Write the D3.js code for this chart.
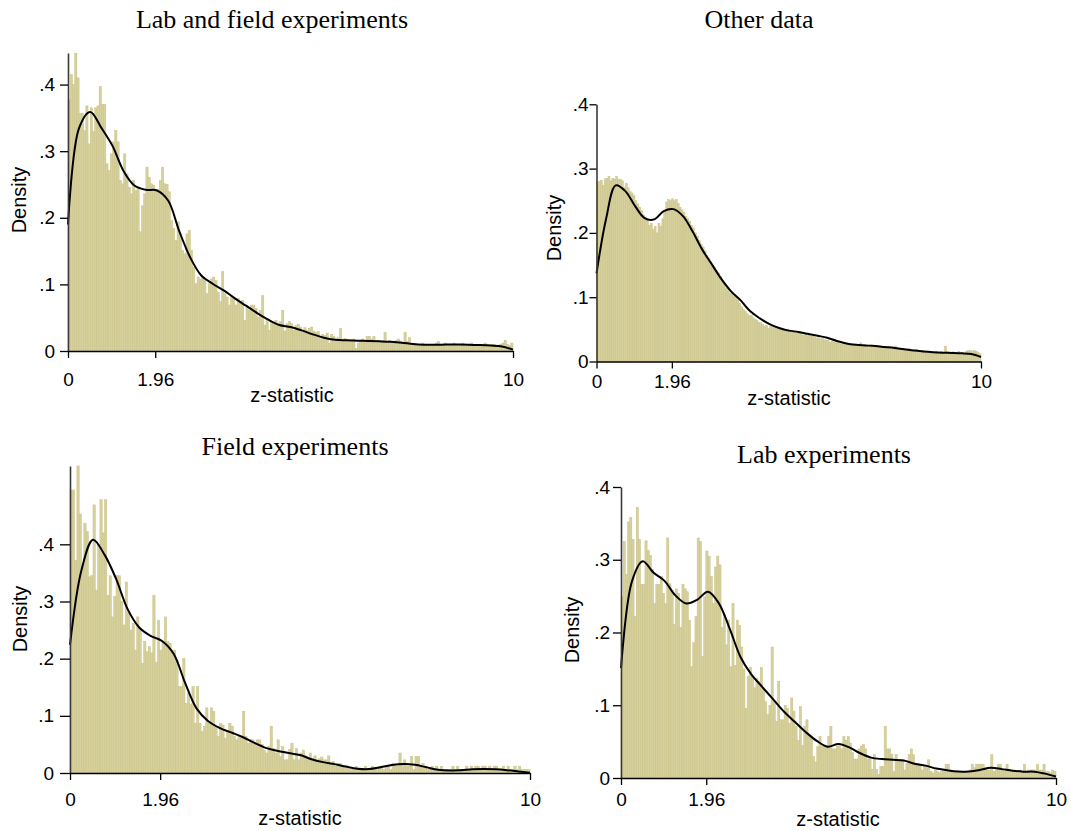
<!DOCTYPE html>
<html>
<head>
<meta charset="utf-8">
<script src="https://cdn.jsdelivr.net/npm/d3@7"></script>
<style>
  html, body { margin: 0; padding: 0; background: #fff; }
  svg { display: block; }
</style>
</head>
<body>
<svg id="chart" width="1071" height="831"></svg>
<script>
// ---------------- DATA ----------------
const binWidth = 0.05;           // histogram bin width (z units), 200 bins on [0,10]
const xTickValues = [0, 1.96, 10];
const xTickLabels = ["0", "1.96", "10"];
const yTickValues = [0, 0.1, 0.2, 0.3, 0.4];
const yTickLabels = ["0", ".1", ".2", ".3", ".4"];
const titles = ["Lab and field experiments", "Other data", "Field experiments", "Lab experiments"];
const xTitle = "z-statistic";
const yTitle = "Density";

// Histogram densities (one row per unit of z, 20 bins each)
const histLabField = [
  0.377,0.415,0.400,0.447,0.410,0.357,0.357,0.331,0.368,0.311,0.365,0.330,0.365,0.368,0.397,0.370,0.370,0.281,0.271,0.296,
  0.314,0.331,0.314,0.256,0.251,0.296,0.266,0.246,0.236,0.256,0.241,0.246,0.179,0.218,0.236,0.276,0.261,0.251,0.249,0.241,
  0.243,0.256,0.276,0.251,0.250,0.239,0.196,0.184,0.166,0.194,0.176,0.151,0.146,0.176,0.181,0.151,0.126,0.101,0.111,0.108,
  0.110,0.106,0.086,0.101,0.108,0.111,0.106,0.088,0.074,0.119,0.086,0.081,0.069,0.083,0.081,0.069,0.079,0.071,0.076,0.046,
  0.066,0.061,0.069,0.069,0.064,0.051,0.061,0.083,0.039,0.046,0.031,0.044,0.041,0.046,0.041,0.044,0.061,0.030,0.041,0.044,
  0.041,0.031,0.038,0.040,0.036,0.028,0.035,0.031,0.034,0.036,0.030,0.028,0.029,0.022,0.025,0.023,0.027,0.012,0.025,0.022,
  0.018,0.020,0.034,0.016,0.019,0.017,0.016,0.015,0.018,0.004,0.012,0.016,0.018,0.014,0.022,0.022,0.018,0.022,0.015,0.016,
  0.014,0.016,0.028,0.014,0.016,0.012,0.014,0.016,0.018,0.015,0.012,0.028,0.014,0.020,0.008,0.012,0.010,0.008,0.010,0.012,
  0.010,0.008,0.010,0.010,0.008,0.012,0.014,0.010,0.008,0.012,0.010,0.008,0.010,0.012,0.010,0.008,0.010,0.012,0.008,0.010,
  0.010,0.012,0.010,0.008,0.010,0.010,0.008,0.012,0.010,0.008,0.010,0.010,0.008,0.008,0.010,0.012,0.016,0.010,0.008,0.012
];
const histOther = [
  0.278,0.280,0.282,0.274,0.284,0.285,0.288,0.281,0.285,0.283,0.288,0.283,0.283,0.281,0.271,0.277,0.270,0.264,0.262,0.258,
  0.250,0.245,0.240,0.235,0.228,0.224,0.220,0.212,0.215,0.205,0.210,0.200,0.215,0.210,0.222,0.235,0.248,0.252,0.250,0.253,
  0.250,0.252,0.246,0.240,0.236,0.232,0.226,0.222,0.218,0.212,0.208,0.200,0.195,0.188,0.182,0.178,0.172,0.165,0.160,0.155,
  0.150,0.146,0.142,0.138,0.132,0.125,0.120,0.114,0.110,0.106,0.108,0.102,0.100,0.096,0.090,0.085,0.081,0.078,0.074,0.071,
  0.072,0.068,0.066,0.064,0.061,0.060,0.058,0.055,0.056,0.052,0.055,0.053,0.052,0.053,0.050,0.050,0.051,0.049,0.048,0.050,
  0.048,0.045,0.047,0.046,0.044,0.046,0.043,0.041,0.042,0.040,0.042,0.039,0.040,0.038,0.036,0.037,0.035,0.036,0.034,0.033,
  0.033,0.030,0.032,0.030,0.029,0.030,0.028,0.027,0.029,0.026,0.027,0.026,0.027,0.025,0.026,0.024,0.026,0.029,0.025,0.026,
  0.024,0.025,0.026,0.027,0.024,0.023,0.024,0.022,0.023,0.022,0.021,0.023,0.021,0.020,0.022,0.024,0.021,0.019,0.020,0.019,
  0.019,0.018,0.020,0.017,0.018,0.017,0.019,0.016,0.015,0.017,0.016,0.015,0.014,0.016,0.015,0.014,0.016,0.015,0.014,0.016,
  0.014,0.024,0.015,0.014,0.013,0.015,0.013,0.014,0.016,0.013,0.014,0.013,0.016,0.017,0.017,0.016,0.017,0.016,0.014,0.012
];
const histField = [
  0.495,0.495,0.372,0.537,0.453,0.363,0.437,0.422,0.343,0.345,0.469,0.320,0.400,0.478,0.420,0.478,0.311,0.345,0.273,0.309,
  0.345,0.345,0.300,0.259,0.334,0.280,0.250,0.262,0.215,0.273,0.253,0.192,0.230,0.212,0.221,0.210,0.311,0.194,0.267,0.215,
  0.230,0.273,0.230,0.227,0.215,0.215,0.198,0.151,0.151,0.200,0.122,0.140,0.120,0.151,0.087,0.151,0.087,0.073,0.082,0.114,
  0.087,0.114,0.108,0.082,0.064,0.087,0.084,0.061,0.073,0.087,0.082,0.064,0.058,0.064,0.064,0.108,0.064,0.052,0.058,0.058,
  0.052,0.058,0.058,0.050,0.040,0.035,0.047,0.082,0.043,0.035,0.058,0.029,0.046,0.023,0.023,0.041,0.052,0.023,0.043,0.023,
  0.035,0.040,0.030,0.028,0.035,0.025,0.030,0.023,0.025,0.028,0.023,0.023,0.030,0.017,0.020,0.012,0.017,0.017,0.012,0.012,
  0.012,0.006,0.006,0.006,0.012,0.006,0.006,0.006,0.012,0.006,0.006,0.012,0.006,0.006,0.012,0.012,0.006,0.012,0.012,0.006,
  0.017,0.012,0.012,0.035,0.017,0.023,0.012,0.012,0.029,0.006,0.029,0.029,0.012,0.017,0.012,0.006,0.006,0.012,0.006,0.012,
  0.006,0.012,0.006,0.006,0.006,0.006,0.012,0.006,0.012,0.006,0.006,0.006,0.012,0.006,0.012,0.006,0.012,0.012,0.006,0.012,
  0.012,0.006,0.012,0.006,0.012,0.012,0.006,0.006,0.012,0.006,0.012,0.006,0.006,0.012,0.006,0.012,0.006,0.006,0.006,0.006
];
const histLab = [
  0.249,0.325,0.280,0.352,0.358,0.328,0.222,0.372,0.328,0.266,0.266,0.326,0.313,0.306,0.287,0.240,0.266,0.266,0.277,0.254,
  0.240,0.330,0.267,0.258,0.211,0.260,0.254,0.207,0.266,0.260,0.256,0.217,0.153,0.186,0.222,0.330,0.325,0.167,0.249,0.312,
  0.305,0.277,0.240,0.290,0.305,0.293,0.207,0.225,0.183,0.217,0.153,0.240,0.155,0.217,0.210,0.180,0.150,0.096,0.140,0.152,
  0.140,0.124,0.137,0.133,0.152,0.124,0.105,0.087,0.100,0.180,0.105,0.078,0.133,0.080,0.080,0.100,0.096,0.075,0.110,0.092,
  0.071,0.052,0.098,0.045,0.071,0.080,0.057,0.058,0.030,0.022,0.043,0.057,0.044,0.044,0.044,0.057,0.071,0.040,0.040,0.044,
  0.044,0.040,0.057,0.052,0.057,0.048,0.035,0.026,0.026,0.040,0.044,0.046,0.040,0.026,0.028,0.012,0.032,0.012,0.005,0.016,
  0.016,0.071,0.040,0.040,0.033,0.009,0.032,0.025,0.025,0.025,0.011,0.020,0.032,0.040,0.032,0.020,0.020,0.018,0.011,0.016,
  0.017,0.025,0.009,0.007,0.011,0.009,0.007,0.009,0.009,0.019,0.019,0.011,0.009,0.009,0.009,0.009,0.007,0.009,0.009,0.007,
  0.011,0.019,0.014,0.019,0.019,0.019,0.019,0.014,0.011,0.011,0.032,0.009,0.011,0.019,0.019,0.011,0.009,0.019,0.011,0.009,
  0.011,0.009,0.009,0.011,0.009,0.019,0.009,0.011,0.011,0.011,0.011,0.019,0.011,0.011,0.019,0.009,0.009,0.007,0.011,0.009
];

// Kernel density estimates read at these z positions
const kdeZ = [0,0.25,0.5,0.75,1,1.25,1.5,1.75,2,2.25,2.5,2.75,3,3.25,3.5,3.75,4,4.25,4.5,4.75,
              5,5.25,5.5,5.75,6,6.25,6.5,6.75,7,7.25,7.5,7.75,8,8.25,8.5,8.75,9,9.25,9.5,9.75,10];
const kdeLabField = [0.190,0.335,0.359,0.335,0.308,0.270,0.248,0.242,0.241,0.226,0.180,0.140,0.113,0.101,0.091,0.079,0.068,0.057,0.047,0.039,
                     0.036,0.031,0.025,0.020,0.017,0.016,0.0155,0.015,0.0145,0.0138,0.0125,0.0105,0.0095,0.0095,0.0096,0.0096,0.0095,0.009,0.0082,0.0068,0.002];
const kdeOther    = [0.137,0.222,0.274,0.265,0.242,0.223,0.221,0.234,0.237,0.226,0.202,0.174,0.151,0.128,0.109,0.095,0.078,0.067,0.058,0.052,
                     0.048,0.046,0.043,0.040,0.037,0.032,0.028,0.026,0.025,0.024,0.0225,0.021,0.019,0.0172,0.0156,0.0145,0.0138,0.0134,0.0128,0.0115,0.007];
const kdeField    = [0.224,0.355,0.408,0.382,0.340,0.287,0.255,0.240,0.231,0.209,0.158,0.113,0.091,0.079,0.071,0.063,0.053,0.044,0.039,0.035,
                     0.0315,0.024,0.019,0.0155,0.0112,0.0075,0.0068,0.010,0.014,0.0158,0.0145,0.010,0.0055,0.0042,0.005,0.0065,0.007,0.0065,0.005,0.0028,0.0005];
const kdeLab      = [0.151,0.270,0.298,0.282,0.271,0.251,0.240,0.245,0.256,0.240,0.205,0.166,0.142,0.125,0.108,0.091,0.077,0.063,0.051,0.043,
                     0.0467,0.042,0.034,0.028,0.026,0.025,0.024,0.0195,0.017,0.013,0.0105,0.0088,0.009,0.011,0.014,0.0122,0.010,0.0087,0.0087,0.006,0.002];
const yAxisMax = [0.4474, 0.4, 0.537, 0.4];

// ---------------- LAYOUT ----------------
const layout = [
  {x0: 68,  x1: 513,  yZero: 351,   yTop: 53,    titleX: 272, titleY: 28,  densX: 26,  densY: 200, tickY: 386, xtX: 292, xtY: 402, tickPad: 5, tickLen: 8},
  {x0: 596.5, x1: 981, yZero: 361.5, yTop: 104.3, titleX: 759, titleY: 28,  densX: 561, densY: 228, tickY: 388, xtX: 789, xtY: 405, tickPad: 1, tickLen: 7},
  {x0: 70,  x1: 530,  yZero: 773,   yTop: 466,   titleX: 295, titleY: 455, densX: 27,  densY: 619, tickY: 806, xtX: 300, xtY: 825, tickPad: 6, tickLen: 10},
  {x0: 621, x1: 1056, yZero: 778,   yTop: 487,   titleX: 824, titleY: 463, densX: 579, densY: 630, tickY: 806, xtX: 838, xtY: 826, tickPad: 3, tickLen: 8}
];
const hists = [histLabField, histOther, histField, histLab];
const kdes = [kdeLabField, kdeOther, kdeField, kdeLab];

const barFill = "#d6d09d";
const barStroke = "#c9c186";
const sans = "'Liberation Sans', Arial, sans-serif";
const serif = "'Liberation Serif', 'Times New Roman', serif";

const svg = d3.select("#chart");

layout.forEach((L, p) => {
  const g = svg.append("g");
  const x = d3.scaleLinear().domain([0, 10]).range([L.x0, L.x1]);
  const y = d3.scaleLinear().domain([0, yAxisMax[p]]).range([L.yZero, L.yTop]);

  // bars
  const hist = hists[p];
  g.append("g").selectAll("rect").data(hist).join("rect")
    .attr("x", (d, i) => x(i * binWidth))
    .attr("width", x(binWidth) - x(0))
    .attr("y", d => y(d))
    .attr("height", d => y(0) - y(d))
    .attr("fill", barFill)
    .attr("stroke", barStroke)
    .attr("stroke-width", 0.5);

  // kde line
  const line = d3.line()
    .x((d, i) => x(kdeZ[i]))
    .y(d => y(d))
    .curve(d3.curveCatmullRom.alpha(0.5));
  g.append("path").datum(kdes[p])
    .attr("d", line)
    .attr("fill", "none")
    .attr("stroke", "#000")
    .attr("stroke-width", 2);

  // y axis
  const ya = g.append("g").attr("transform", `translate(${L.x0},0)`)
    .call(d3.axisLeft(y).tickValues(yTickValues).tickFormat((d, i) => yTickLabels[i])
      .tickSize(L.tickLen).tickSizeOuter(0).tickPadding(L.tickPad));
  ya.select(".domain").attr("stroke", "#3a3a3a").attr("stroke-width", 1.6);
  ya.selectAll(".tick line").attr("stroke", "#000").attr("stroke-width", 1.3);
  ya.selectAll(".tick text").attr("font-family", sans).attr("font-size", 19).attr("fill", "#000");

  // x axis
  const xa = g.append("g").attr("transform", `translate(0,${L.yZero})`)
    .call(d3.axisBottom(x).tickValues(xTickValues).tickFormat((d, i) => xTickLabels[i])
      .tickSize(7).tickSizeOuter(0));
  xa.select(".domain").attr("stroke", "#000").attr("stroke-width", 1.5);
  xa.selectAll(".tick line").attr("stroke", "#000").attr("stroke-width", 1.3);
  xa.selectAll(".tick text").attr("font-family", sans).attr("font-size", 19).attr("fill", "#000")
    .attr("dy", null).attr("y", L.tickY - L.yZero);

  // titles
  g.append("text").attr("x", L.titleX).attr("y", L.titleY)
    .attr("text-anchor", "middle").attr("font-family", serif).attr("font-size", 26)
    .text(titles[p]);
  g.append("text").attr("x", L.xtX).attr("y", L.xtY)
    .attr("text-anchor", "middle").attr("font-family", sans).attr("font-size", 20)
    .text(xTitle);
  g.append("text")
    .attr("transform", `translate(${L.densX},${L.densY}) rotate(-90)`)
    .attr("text-anchor", "middle").attr("font-family", sans).attr("font-size", 20)
    .text(yTitle);
});
</script>
</body>
</html>
